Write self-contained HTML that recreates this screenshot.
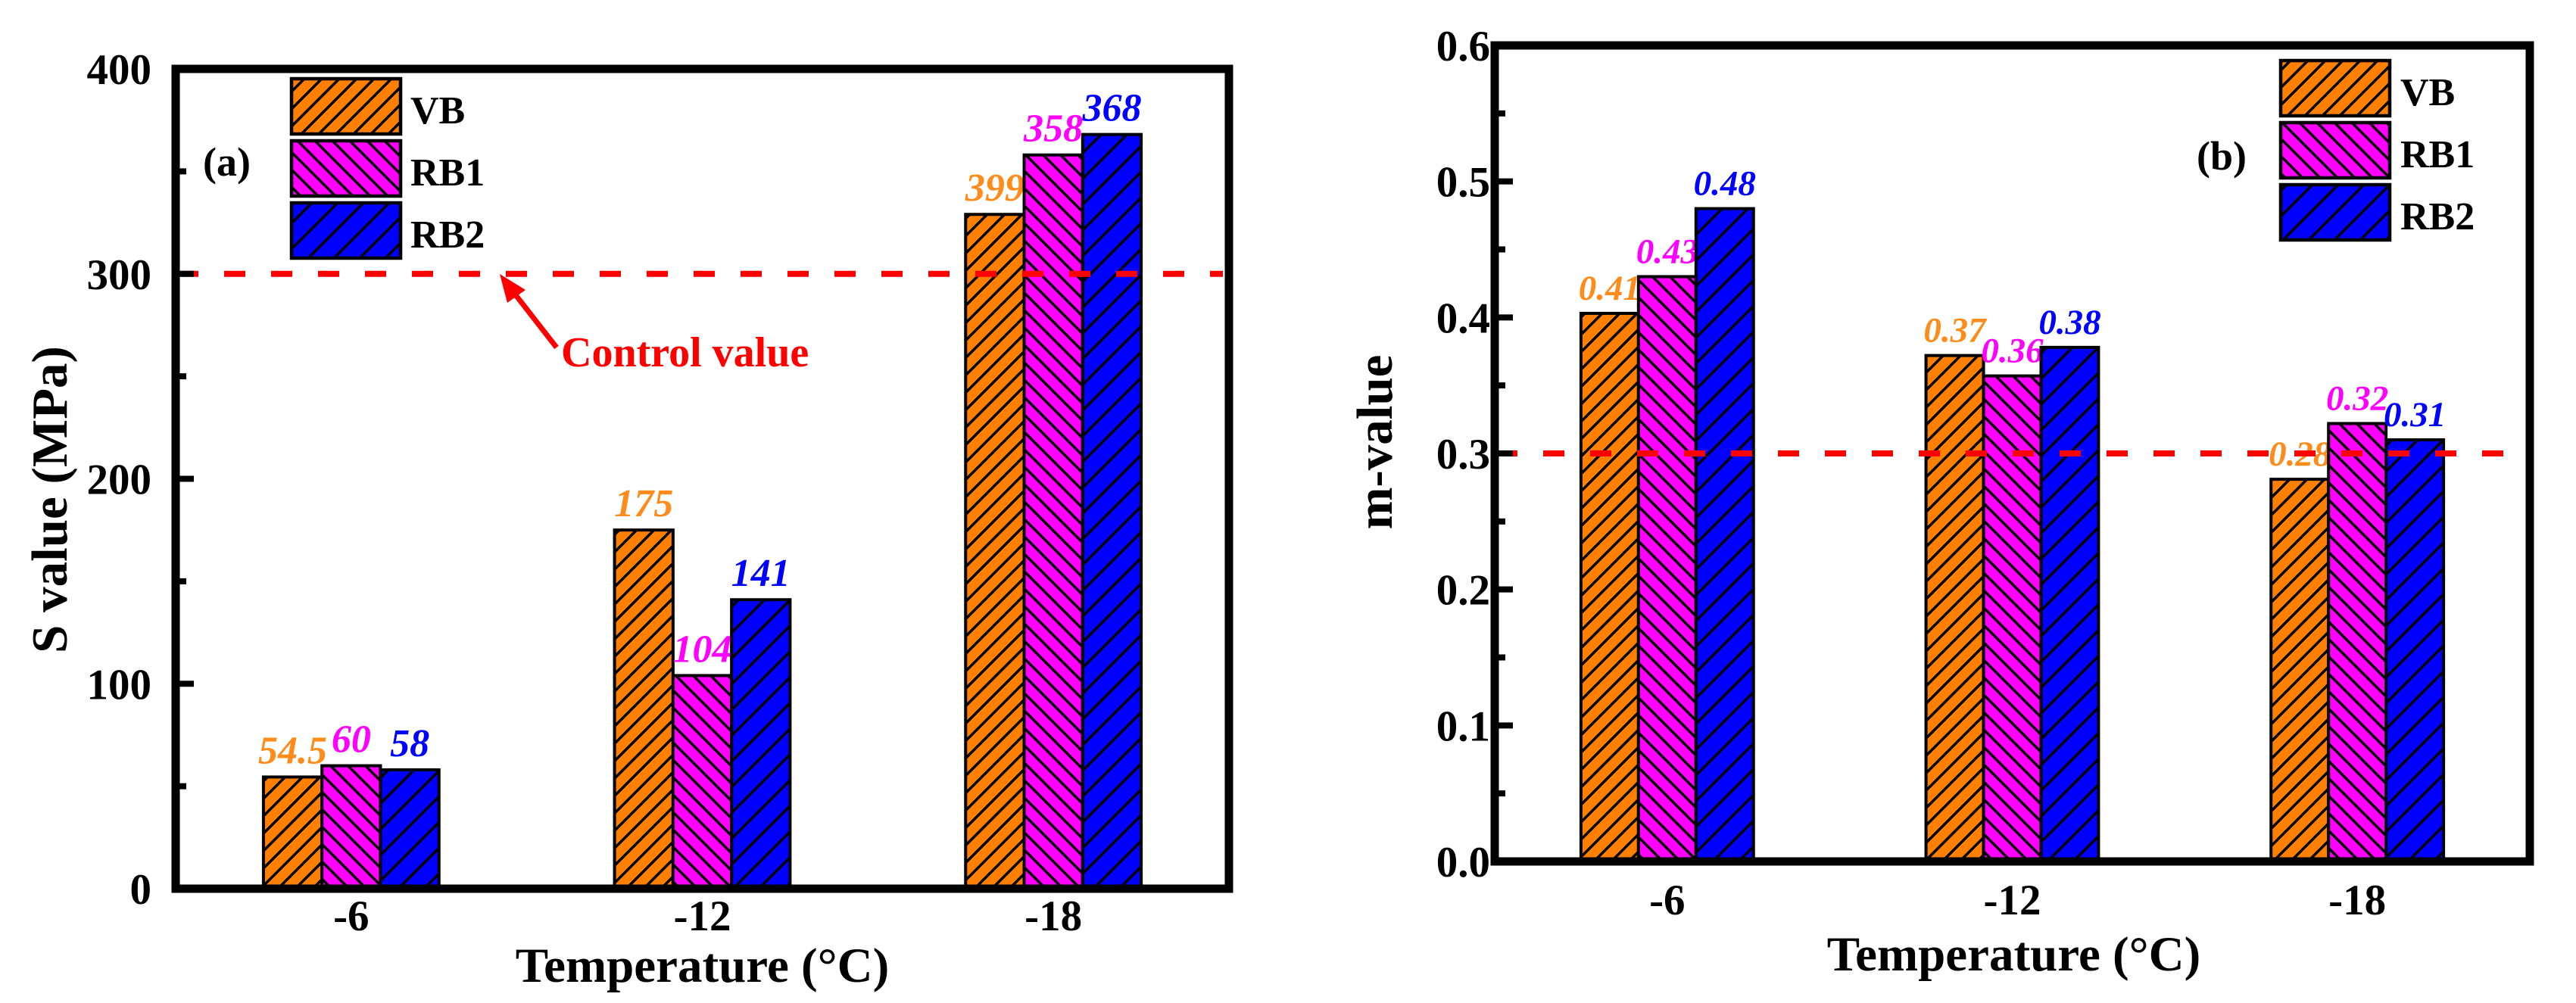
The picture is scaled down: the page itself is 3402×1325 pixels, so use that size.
<!DOCTYPE html>
<html><head><meta charset="utf-8">
<style>
html,body{margin:0;padding:0;background:#fff;}
svg{display:block;font-family:"Liberation Serif",serif;font-weight:bold;}
</style></head>
<body>
<svg id="chart" width="3402" height="1325" viewBox="0 0 3402 1325" xmlns="http://www.w3.org/2000/svg">
<defs>
<pattern id="hatch-vb" patternUnits="userSpaceOnUse" width="23" height="23">
<rect width="23" height="23" fill="#FF8000"/>
<path d="M-2,25 L25,-2 M-6,6 L6,-6 M17,29 L29,17" stroke="#000" stroke-width="3.5"/>
</pattern>
<pattern id="hatch-rb1" patternUnits="userSpaceOnUse" width="23" height="23">
<rect width="23" height="23" fill="#FF00FF"/>
<path d="M-2,-2 L25,25 M-6,17 L6,29 M17,-6 L29,6" stroke="#000" stroke-width="3.5"/>
</pattern>
<pattern id="hatch-rb2" patternUnits="userSpaceOnUse" width="34" height="34">
<rect width="34" height="34" fill="#0000FF"/>
<path d="M-2,36 L36,-2 M-6,6 L6,-6 M28,40 L40,28" stroke="#000" stroke-width="3.5"/>
</pattern>
</defs>
<g id="root"></g>
</svg>
<script>
// ---- data ----
const categories = ["-6", "-12", "-18"];
const seriesNames = ["VB", "RB1", "RB2"];
// chart (a): S value
const sVB = [54.5, 175, 329];
const sRB1 = [60, 104, 358];
const sRB2 = [58, 141, 368];
const sLabelsVB = ["54.5", "175", "399"];
const sLabelsRB1 = ["60", "104", "358"];
const sLabelsRB2 = ["58", "141", "368"];
const sTicks = [0, 100, 200, 300, 400];
const sControl = 300;
// chart (b): m-value
const mVB = [0.403, 0.372, 0.281];
const mRB1 = [0.43, 0.357, 0.322];
const mRB2 = [0.48, 0.378, 0.31];
const mLabelsVB = ["0.41", "0.37", "0.28"];
const mLabelsRB1 = ["0.43", "0.36", "0.32"];
const mLabelsRB2 = ["0.48", "0.38", "0.31"];
const mTicks = [0.0, 0.1, 0.2, 0.3, 0.4, 0.5, 0.6];
const mControl = 0.3;

const NS = "http://www.w3.org/2000/svg";
const root = document.getElementById("root");
function mk(tag, attrs, parent, text) {
  const e = document.createElementNS(NS, tag);
  for (const k in attrs) e.setAttribute(k, attrs[k]);
  if (text !== undefined) e.textContent = text;
  (parent || root).appendChild(e);
  return e;
}
const fills = ["url(#hatch-vb)", "url(#hatch-rb1)", "url(#hatch-rb2)"];
const labelColors = ["#FF8C1A", "#FF00FF", "#0000FF"];

function drawChart(cfg) {
  const g = mk("g", {});
  
  
  const {x0, x1, y0, y1, vmin, vmax} = cfg;
  const yScale = v => y0 - (v - vmin) / (vmax - vmin) * (y0 - y1);
  const band = (x1 - x0) / categories.length;
  const barW = band / 6;
  const xCenter = i => x0 + band * (i + 0.5);

  // bars
  cfg.series.forEach((vals, s) => {
    vals.forEach((v, i) => {
      const bx = xCenter(i) + (s - 1.5) * barW;
      const by = yScale(v);
      const r = mk("rect", {x: bx, y: by, width: barW, height: y0 - by, fill: fills[s], stroke: "#000", "stroke-width": 4}, g);
      
      
      const t = mk("text", {x: bx + barW / 2, y: by - 18, "text-anchor": "middle", fill: labelColors[s], "font-size": cfg.labelSize, "font-style": "italic"}, g, cfg.labels[s][i]);
      
      
    });
  });

  // control line
  const cy = yScale(cfg.control);
  const cl = mk("line", {x1: x0 + 2, y1: cy, x2: x1 - 8, y2: cy, stroke: "#FF0000", "stroke-width": 8, "stroke-dasharray": "28 34"}, g);
  
  

  // frame
  const fr = mk("rect", {x: x0, y: y1, width: x1 - x0, height: y0 - y1, fill: "none", stroke: "#000", "stroke-width": 11}, g);
  
  

  // ticks
  const ticks = cfg.ticks;
  ticks.forEach((v, k) => {
    const ty = yScale(v);
    const tl = mk("line", {x1: x0, y1: ty, x2: x0 + 24, y2: ty, stroke: "#000", "stroke-width": 8}, g);
    
    
    if (k < ticks.length - 1) {
      const my = yScale((v + ticks[k + 1]) / 2);
      const ml = mk("line", {x1: x0, y1: my, x2: x0 + 14, y2: my, stroke: "#000", "stroke-width": 8}, g);
      
      
    }
    const lab = mk("text", {x: cfg.tickLabelX, y: ty + 20, "text-anchor": "end", "font-size": 57}, g, cfg.tickFmt(v));
    
    
  });
  categories.forEach((c, i) => {
    const t = mk("text", {x: xCenter(i), y: cfg.xLabelY, "text-anchor": "middle", "font-size": 57}, g, c);
    
    
  });

  // titles
  const xt = mk("text", {x: (x0 + x1) / 2 + cfg.xTitleDx, y: cfg.xTitleY, "text-anchor": "middle", "font-size": 65}, g, "Temperature (°C)");
  
  
  const yt = mk("text", {x: 0, y: 0, "text-anchor": "middle", "font-size": 67, transform: `translate(${cfg.yTitleX},${cfg.yTitleY}) rotate(-90)`}, g, cfg.yTitle);
  
  

  // legend
  cfg.legend.boxes.forEach((by, s) => {
    const lg = mk("g", {}, g);
    
    
    mk("rect", {x: cfg.legend.x, y: by, width: 144, height: 73, fill: fills[s], stroke: "#000", "stroke-width": 4.5}, lg);
    mk("text", {x: cfg.legend.tx, y: by + 59, "font-size": 52}, lg, seriesNames[s]);
  });
  const pl = mk("text", {x: cfg.panel.x, y: cfg.panel.y, "font-size": 54}, g, cfg.panel.text);
  
  
}

drawChart({
  name: "chart-a", x0: 232, x1: 1623, y0: 1174, y1: 91, vmin: 0, vmax: 400,
  series: [sVB, sRB1, sRB2], labels: [sLabelsVB, sLabelsRB1, sLabelsRB2],
  ticks: sTicks, tickFmt: v => String(v), control: sControl, labelSize: 52,
  tickLabelX: 200, xLabelY: 1229, xTitleY: 1297, xTitleDx: 0,
  yTitle: "S value (MPa)", yTitleX: 88, yTitleY: 660,
  legend: {x: 385, tx: 542, boxes: [104, 186, 268]},
  panel: {x: 268, y: 232, text: "(a)"}
});
drawChart({
  name: "chart-b", x0: 1974, x1: 3341, y0: 1138, y1: 60, vmin: 0, vmax: 0.6,
  series: [mVB, mRB1, mRB2], labels: [mLabelsVB, mLabelsRB1, mLabelsRB2],
  ticks: mTicks, tickFmt: v => v.toFixed(1), control: mControl, labelSize: 47,
  tickLabelX: 1968, xLabelY: 1208, xTitleY: 1282, xTitleDx: 2,
  yTitle: "m-value", yTitleX: 1838, yTitleY: 584,
  legend: {x: 3012, tx: 3170, boxes: [80, 162, 244]},
  panel: {x: 2901, y: 224, text: "(b)"}
});

// control value annotation (chart a)
const ann = mk("g", {});


mk("line", {x1: 735, y1: 459, x2: 675, y2: 382, stroke: "#FF0000", "stroke-width": 7}, ann);
mk("polygon", {points: "660,362 694,383 670,400", fill: "#FF0000"}, ann);
mk("text", {x: 741, y: 484, fill: "#FF0000", "font-size": 56}, ann, "Control value");
</script>
</body></html>
